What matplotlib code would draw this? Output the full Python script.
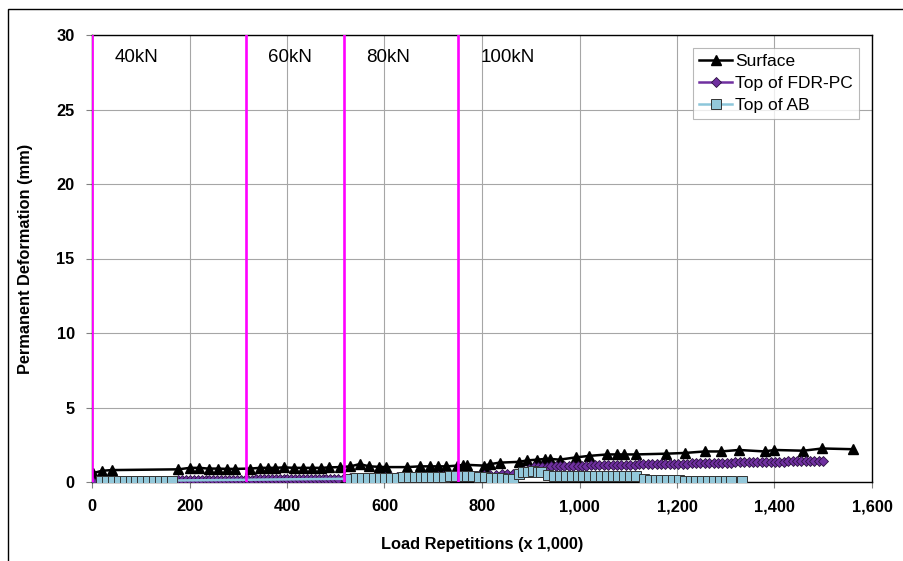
import numpy as np
import matplotlib as mpl
mpl.use('Agg')
import matplotlib.pyplot as plt
from matplotlib.patches import Rectangle

plt.rcParams['font.family'] = ['Liberation Sans', 'DejaVu Sans']

# ---------------------------------------------------------------- data
surface_x = [0, 3, 20, 40, 177, 201, 220, 239, 259, 277, 294, 324, 345, 360, 376,
             394, 415, 432, 451, 470, 487, 508, 530, 549, 569, 588, 604, 646, 673,
             693, 709, 727, 749, 762, 770, 804, 817, 836, 875, 893, 913, 930, 940,
             959, 992, 1019, 1057, 1076, 1092, 1115, 1178, 1216, 1257, 1290, 1327,
             1380, 1399, 1459, 1498, 1561]
surface_y = [0.0, 0.6, 0.75, 0.8, 0.85, 0.95, 0.95, 0.9, 0.9, 0.88, 0.88, 0.9, 0.95,
             0.95, 0.95, 0.98, 0.95, 0.95, 0.95, 0.95, 0.98, 1.0, 1.05, 1.2, 1.05,
             1.02, 1.0, 1.0, 1.05, 1.05, 1.05, 1.05, 1.1, 1.15, 1.15, 1.1, 1.2, 1.3,
             1.35, 1.45, 1.5, 1.55, 1.55, 1.5, 1.65, 1.75, 1.85, 1.85, 1.85, 1.85,
             1.9, 1.95, 2.05, 2.05, 2.15, 2.05, 2.15, 2.1, 2.25, 2.2]

fdr_x = [0,
         177, 185, 193, 201, 209, 217, 225, 233, 241, 249, 257, 265, 273, 281,
         289, 297, 305, 313, 321, 329, 337, 345, 353, 361, 369, 377, 385, 393,
         401, 409, 417, 425, 433, 441, 449, 457, 465, 473, 481, 489, 497, 505,
         517, 529, 541, 553, 565, 577, 589, 601, 613, 625, 637, 649, 661, 673,
         685, 697, 709, 721, 733, 745, 757, 769, 781, 793, 805, 817, 829, 841,
         852, 864, 875, 886, 897, 906,
         915, 924, 933, 942, 951, 960, 969, 978, 987, 996,
         1005, 1014, 1023, 1032, 1041, 1050, 1059, 1068, 1077, 1086, 1095,
         1104, 1113, 1122, 1131, 1140, 1149, 1158, 1167, 1176, 1185, 1194,
         1203, 1212, 1221, 1230, 1239, 1248, 1257, 1266, 1275, 1284, 1293,
         1302, 1311, 1320, 1329, 1338, 1347, 1356, 1365, 1374, 1383, 1392,
         1401, 1410, 1419, 1428, 1437, 1446, 1455, 1464, 1473, 1482, 1491,
         1500]
fdr_y = [0.1,
         0.15, 0.15, 0.15, 0.15, 0.15, 0.15, 0.15, 0.15, 0.15, 0.15, 0.16, 0.16, 0.16, 0.16,
         0.16, 0.16, 0.16, 0.16, 0.16, 0.16, 0.18, 0.18, 0.18, 0.18, 0.18, 0.18, 0.18, 0.18,
         0.18, 0.18, 0.2, 0.2, 0.2, 0.2, 0.2, 0.2, 0.22, 0.22, 0.22, 0.22, 0.22, 0.22,
         0.25, 0.26, 0.27, 0.28, 0.29, 0.30, 0.30, 0.31, 0.32, 0.32, 0.33, 0.34, 0.34, 0.35,
         0.36, 0.36, 0.37, 0.38, 0.38, 0.39, 0.40, 0.41, 0.42, 0.43, 0.45, 0.47, 0.50, 0.53,
         0.55, 0.57, 0.6, 0.75, 0.9, 1.0,
         1.02, 1.03, 1.04, 1.05, 1.05, 1.06, 1.07, 1.08, 1.08, 1.09,
         1.10, 1.10, 1.11, 1.12, 1.12, 1.13, 1.13, 1.14, 1.14, 1.15, 1.15,
         1.16, 1.17, 1.18, 1.18, 1.19, 1.20, 1.20, 1.21, 1.21, 1.22, 1.22,
         1.23, 1.23, 1.24, 1.25, 1.25, 1.26, 1.27, 1.27, 1.28, 1.28, 1.29,
         1.30, 1.30, 1.31, 1.32, 1.32, 1.33, 1.33, 1.34, 1.35, 1.35, 1.36,
         1.36, 1.37, 1.37, 1.38, 1.38, 1.39, 1.39, 1.40, 1.40, 1.41, 1.41,
         1.42]

ab_x = [19, 31, 43, 55, 67, 79, 91, 103, 115, 127, 139, 151, 164,
        530, 542, 554, 566, 578, 590, 602, 614, 626, 638, 650, 662, 674, 686, 698,
        710, 722, 734, 746, 758, 770, 782, 794, 806, 818, 830, 842, 854, 864,
        875, 885, 895, 905, 914, 922,
        936, 948, 960, 972, 984, 996, 1008, 1020, 1032, 1044, 1056, 1068, 1080,
        1092, 1104, 1116,
        1132, 1144, 1156, 1168, 1180, 1192, 1204, 1216, 1228, 1240, 1252, 1264,
        1276, 1288, 1300, 1310, 1334, 1400, 1460]
ab_y = [0.1, 0.1, 0.1, 0.1, 0.1, 0.1, 0.1, 0.1, 0.1, 0.1, 0.1, 0.1, 0.1,
        0.22, 0.24, 0.25, 0.26, 0.27, 0.28, 0.29, 0.30, 0.30, 0.31, 0.32, 0.32, 0.33,
        0.34, 0.35, 0.35, 0.36, 0.37, 0.38, 0.38, 0.38, 0.37, 0.36, 0.33, 0.30, 0.28,
        0.25, 0.22, 0.18,
        0.55, 0.65, 0.70, 0.72, 0.70, 0.65,
        0.45, 0.43, 0.42, 0.42, 0.42, 0.42, 0.42, 0.42, 0.42, 0.42, 0.42, 0.42, 0.42,
        0.42, 0.42, 0.42,
        0.18, 0.15, 0.15, 0.15, 0.13, 0.12, 0.12, 0.10, 0.10, 0.10, 0.10, 0.10,
        0.10, 0.10, 0.08, 0.08, 0.05, -0.7, -0.7]

load_x = [0, 316, 516, 751]
load_labels = ['40kN', '60kN', '80kN', '100kN']

# ---------------------------------------------------------------- figure
fig = plt.figure(figsize=(9.04, 5.61), dpi=100)
ax = fig.add_axes([92/904, 79/561, 780/904, 447/561])

# outer chart-area frame (runs off the right and bottom of the picture)
fig.patches.append(Rectangle((8/904, -0.2), 1.2, 1.2 - 8.5/561, transform=fig.transFigure,
                             fill=False, edgecolor='black', linewidth=1.0, clip_on=False))

ax.plot(surface_x, surface_y, '-', color='black', linewidth=1.8, marker='^',
        markersize=6.5, markerfacecolor='black', markeredgecolor='black',
        label='Surface', zorder=3)
ax.plot(fdr_x, fdr_y, '-', color='#7030A0', linewidth=1.8, marker='D',
        markersize=5.2, markerfacecolor='#7030A0', markeredgecolor='#2a1040',
        markeredgewidth=0.6, label='Top of FDR-PC', zorder=4)
ax.plot(ab_x, ab_y, '-', color='#8CC6DA', linewidth=1.8, marker='s',
        markersize=6.8, markerfacecolor='#93C8DA', markeredgecolor='#333333',
        markeredgewidth=0.7, label='Top of AB', zorder=5)

for x, lab in zip(load_x, load_labels):
    ax.plot([x, x], [0, 30], '-', color='#FF00FF', linewidth=1.9, zorder=6)
    ax.annotate(lab, xy=(x, 28.5), xytext=(16, 0), textcoords='offset points',
                fontsize=13.5, va='center', ha='left')

ax.set_xlim(0, 1600)
ax.set_ylim(0, 30)
ax.set_xticks(np.arange(0, 1601, 200))
ax.set_yticks(np.arange(0, 31, 5))
ax.set_xticklabels(['{:,}'.format(v) for v in range(0, 1601, 200)])
ax.grid(True, color='#A6A6A6', linewidth=0.8)
ax.set_axisbelow(True)

for s in ax.spines.values():
    s.set_color('black')
    s.set_linewidth(1.0)

ax.tick_params(axis='both', direction='out', length=4.5, color='#808080',
               labelsize=11.8, pad=8)
for t in ax.get_xticklabels() + ax.get_yticklabels():
    t.set_fontweight('bold')

ax.set_xlabel('Load Repetitions (x 1,000)', fontsize=11.8, fontweight='bold')
ax.set_ylabel('Permanent Deformation (mm)', fontsize=11.8, fontweight='bold')
ax.xaxis.set_label_coords(0.5, -0.123)
ax.yaxis.set_label_coords(-0.0756, 0.5)

leg = ax.legend(loc='upper right', bbox_to_anchor=(0.983, 0.971), fontsize=12.5,
                frameon=True, fancybox=False, handlelength=1.9, handletextpad=0.15,
                borderpad=0.35, labelspacing=0.4, borderaxespad=0)
leg.get_frame().set_edgecolor('#A6A6A6')
leg.get_frame().set_linewidth(0.8)

fig.savefig('out.png', dpi=100)
